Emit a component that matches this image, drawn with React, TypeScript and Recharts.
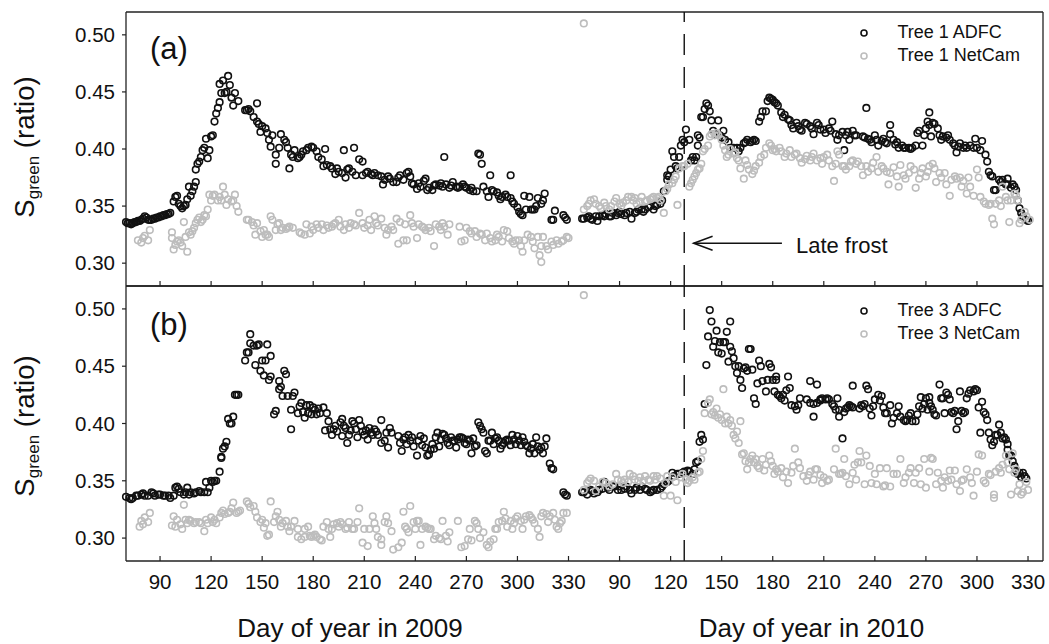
import React from 'react';
import { ScatterChart, Scatter, XAxis, YAxis, ReferenceLine, Legend } from 'recharts';

const FONT = '"Liberation Sans", Arial, Helvetica, sans-serif';
const INK = '#111';
const GREY = '#bdbdbd';
const AXIS = '#222';

// 2010 days are placed 270 units after 2009 days on the shared x axis
const OFFSET_2010 = 270;
const xTicks2009 = [90, 120, 150, 180, 210, 240, 270, 300, 330];
const xTicks2010 = [90, 120, 150, 180, 210, 240, 270, 300, 330];
const yTicks = [0.3, 0.35, 0.4, 0.45, 0.5];
const yDomain = [0.28, 0.52];
const xDomain = [70, 608.8];
const frostDay2010 = 128;
const arrowTipDay2010 = 133.5;
const arrowTailDay2010 = 185.4;
const arrowValue = 0.3175;

// ---------- Panel (a): Tree 1 ----------
const t1Adfc2009 = [
[70,.336],[71,.335],[72,.335],[73,.334],[74,.335],[75,.336],[76,.336],[77,.337],[78,.337],[79,.338],[80,.339],[81,.341],[82,.340],[83,.338],[84,.338],[85,.338],[86,.339],[87,.339],[88,.340],[89,.340],[90,.341],[91,.341],[92,.342],[93,.342],[94,.343],[95,.343],[96,.344],
[98,.354],[99,.358],[100,.359],[101,.352],[102,.350],[103,.348],[104,.350],[105,.351],[106,.356],[107,.367],[108,.359],[109,.363],[110,.367],[111,.371],[111,.382],[112,.387],[113,.389],[114,.393],[115,.399],[116,.401],[117,.409],[118,.392],[119,.399],[120,.411],[121,.412],[122,.424],[123,.431],[124,.436],[125,.441],[125,.457],[126,.449],[127,.460],[128,.449],[129,.450],[130,.464],[131,.456],[132,.445],[133,.438],[134,.449],[136,.442],
[140,.434],[141,.434],[142,.435],[143,.433],[145,.428],[147,.440],[147,.424],[148,.422],[149,.415],[150,.420],[152,.418],[153,.414],[154,.408],[155,.402],[156,.412],[158,.387],[158,.395],[160,.401],[161,.413],[163,.408],[164,.406],[165,.401],[166,.383],[167,.395],[168,.393],[169,.399],[171,.392],[172,.393],[173,.395],[174,.398],[176,.399],[177,.401],[179,.402],[180,.401],[182,.398],[183,.393],[185,.391],[186,.385],[187,.400],[188,.386],[190,.385],[191,.383],[193,.378],[194,.383],[195,.380],[197,.379],[198,.399],[199,.375],[200,.382],[201,.383],[203,.380],[204,.401],[205,.377],[207,.391],[209,.389],[209,.377],[211,.379],[212,.380],[214,.378],[215,.377],[216,.379],[218,.377],[220,.376],[221,.369],[222,.373],[224,.376],[225,.374],[227,.371],[229,.371],[230,.375],[231,.377],[233,.373],[235,.379],[236,.380],[237,.376],[238,.370],[239,.369],[241,.365],[242,.370],[243,.367],[245,.372],[246,.374],[247,.364],[248,.366],[250,.364],[251,.368],[252,.369],[254,.368],[255,.370],[256,.367],[257,.393],[258,.369],[260,.366],[261,.368],[262,.371],[264,.367],[265,.366],[266,.367],[268,.369],[269,.367],[270,.366],[272,.364],[273,.366],[274,.363],[276,.363],[277,.396],[278,.395],[279,.387],[280,.367],[282,.363],[283,.358],[284,.377],[285,.364],[286,.363],[288,.362],[289,.359],[290,.356],[291,.358],[293,.360],[294,.358],[296,.357],[296,.377],[297,.354],[298,.352],[300,.349],[301,.345],[302,.343],[303,.342],[304,.359],[305,.347],[307,.358],[308,.347],[309,.347],[310,.347],[311,.350],[312,.357],[314,.352],[315,.355],[316,.361],[320,.338],[321,.338],[322,.346],[327,.342],[328,.340],[329,.338]
];
const t1NetCam2009 = [
[77,.320],[79,.318],[80,.322],[81,.324],[83,.320],[84,.329],
[97,.327],[97,.322],[98,.312],[99,.316],[100,.319],[101,.320],[102,.318],[103,.315],[104,.336],[105,.323],[106,.310],[107,.327],[108,.325],[109,.328],[110,.331],[111,.335],[112,.338],[113,.340],[114,.336],[115,.338],[116,.342],[117,.341],[118,.347],[119,.360],[120,.355],[121,.359],[122,.360],[124,.355],[125,.358],[126,.355],[127,.367],[128,.360],[129,.351],[130,.356],[132,.354],[133,.355],[134,.360],[135,.350],[136,.345],
[141,.338],[142,.338],[144,.336],[145,.333],[146,.325],[147,.335],[149,.328],[150,.323],[151,.329],[152,.325],[153,.325],[154,.323],[155,.341],[156,.338],[158,.329],[159,.334],[160,.335],[161,.329],[162,.331],[164,.330],[165,.331],[166,.332],[168,.331],[172,.327],[173,.326],[175,.325],[176,.334],[178,.326],[179,.332],[180,.329],[182,.334],[183,.331],[185,.334],[186,.329],[188,.333],[189,.331],[191,.332],[192,.334],[193,.335],[195,.338],[196,.332],[198,.329],[199,.334],[201,.331],[202,.335],[204,.334],[205,.333],[207,.344],[209,.335],[210,.331],[212,.333],[213,.338],[214,.329],[216,.341],[217,.335],[218,.333],[220,.339],[222,.331],[223,.325],[224,.329],[226,.332],[227,.329],[229,.339],[230,.317],[231,.336],[233,.320],[234,.334],[235,.320],[237,.342],[238,.335],[239,.332],[241,.322],[242,.334],[244,.332],[245,.331],[246,.329],[248,.331],[249,.328],[251,.315],[252,.334],[254,.332],[255,.329],[256,.335],[257,.332],[259,.325],[260,.334],[266,.332],[267,.319],[269,.320],[270,.331],[272,.328],[273,.326],[275,.328],[276,.323],[278,.326],[279,.325],[281,.320],[282,.326],[284,.322],[285,.319],[287,.320],[288,.325],[289,.323],[291,.319],[292,.329],[294,.328],[295,.322],[297,.319],[298,.317],[299,.320],[301,.320],[302,.315],[303,.310],[304,.320],[306,.325],[308,.323],[309,.319],[310,.313],[312,.323],[313,.307],[314,.301],[314,.315],[315,.323],[317,.315],[318,.312],[320,.319],[321,.316],[323,.320],[324,.317],[326,.319],[327,.320],[329,.323],[330,.322]
];
const t1Adfc2010 = [
[68,.339],[69,.339],[71,.340],[72,.341],[73,.339],[74,.338],[76,.341],[77,.337],[78,.341],[80,.342],[81,.341],[82,.343],[84,.341],[85,.341],[86,.344],[88,.342],[89,.344],[90,.345],[91,.343],[93,.342],[94,.344],[96,.345],[97,.339],[99,.344],[100,.345],[101,.347],[103,.347],[104,.345],[105,.347],[107,.349],[108,.350],[110,.347],[111,.350],[112,.351],[114,.352],[115,.355],[116,.363],[118,.373],[118,.377],[119,.376],[120,.382],[121,.398],[122,.393],[123,.385],[124,.383],[125,.393],[126,.403],[127,.408],[128,.406],[129,.417],[131,.408],[132,.390],[133,.393],[134,.390],[135,.393],[136,.403],[136,.412],[137,.410],[138,.428],[139,.428],[140,.435],[141,.440],[142,.438],[143,.433],[144,.425],[145,.416],[146,.413],[148,.425],[149,.412],[150,.410],[151,.416],[152,.408],[154,.406],[155,.401],[157,.401],[159,.401],[160,.398],[161,.401],[163,.405],[164,.406],[165,.408],[167,.406],[168,.407],[169,.408],[170,.407],[172,.424],[173,.428],[174,.433],[176,.433],[177,.442],[178,.445],[179,.444],[180,.443],[181,.441],[182,.440],[183,.438],[185,.432],[186,.428],[187,.430],[189,.426],[190,.425],[191,.421],[192,.418],[194,.423],[195,.420],[196,.417],[197,.416],[199,.423],[200,.422],[202,.420],[203,.418],[204,.413],[206,.423],[207,.421],[208,.417],[210,.417],[211,.414],[213,.418],[214,.416],[215,.424],[217,.413],[218,.408],[219,.412],[221,.415],[222,.399],[223,.412],[224,.415],[225,.408],[227,.416],[228,.412],[229,.412],[233,.411],[234,.410],[235,.436],[236,.409],[237,.408],[238,.406],[240,.412],[241,.408],[242,.403],[244,.407],[245,.409],[246,.406],[247,.405],[249,.421],[249,.413],[251,.408],[252,.404],[253,.406],[254,.401],[256,.403],[257,.401],[258,.401],[260,.401],[261,.400],[262,.401],[264,.403],[265,.414],[266,.416],[268,.403],[269,.412],[270,.418],[271,.424],[272,.421],[272,.432],[273,.411],[274,.423],[275,.422],[277,.418],[278,.412],[279,.408],[280,.411],[282,.410],[283,.412],[284,.408],[286,.405],[287,.403],[288,.397],[289,.402],[290,.405],[292,.401],[293,.403],[294,.401],[296,.403],[298,.401],[299,.409],[300,.401],[302,.399],[303,.407],[305,.395],[306,.389],[307,.380],[308,.377],[309,.376],[310,.364],[311,.364],[313,.373],[314,.371],[315,.373],[317,.369],[318,.374],[318,.369],[320,.366],[321,.369],[322,.367],[323,.364],[324,.355],[325,.348],[326,.344],[327,.341],[329,.338],[330,.337]
];
const t1NetCam2010 = [
[69,.510],
[69,.347],[71,.350],[72,.352],[73,.355],[75,.356],[76,.352],[78,.350],[79,.348],[81,.353],[82,.350],[84,.347],[85,.350],[87,.354],[88,.357],[90,.352],[91,.350],[92,.353],[94,.355],[95,.358],[97,.358],[98,.355],[99,.357],[100,.352],[102,.354],[103,.358],[105,.354],[106,.355],[108,.356],[109,.357],[110,.358],[112,.357],[113,.358],[114,.355],[116,.344],[117,.363],[118,.365],[119,.369],[121,.370],[122,.373],[123,.376],[124,.351],[125,.383],[127,.385],[128,.385],[130,.387],[131,.367],[132,.370],[133,.373],[134,.376],[135,.379],[136,.382],[137,.383],[138,.387],[139,.398],[140,.400],[142,.403],[143,.411],[144,.413],[146,.412],[147,.414],[148,.412],[150,.408],[151,.403],[152,.399],[153,.393],[154,.395],[155,.400],[157,.396],[158,.397],[159,.392],[160,.390],[161,.383],[163,.374],[164,.390],[165,.386],[166,.382],[168,.378],[169,.381],[170,.385],[172,.388],[173,.393],[175,.395],[176,.401],[178,.405],[179,.403],[180,.399],[181,.400],[182,.398],[184,.401],[185,.398],[187,.393],[188,.396],[190,.399],[191,.393],[193,.395],[194,.396],[196,.392],[197,.388],[199,.391],[200,.394],[202,.390],[203,.393],[204,.396],[206,.390],[208,.392],[209,.387],[210,.393],[212,.395],[213,.390],[215,.385],[216,.372],[217,.387],[218,.398],[219,.395],[221,.385],[222,.385],[223,.382],[225,.385],[226,.389],[227,.390],[229,.387],[230,.389],[232,.385],[233,.377],[235,.385],[236,.380],[238,.383],[239,.388],[241,.393],[242,.380],[244,.385],[245,.383],[247,.380],[248,.369],[249,.379],[251,.384],[253,.376],[254,.367],[255,.386],[257,.377],[258,.374],[260,.379],[261,.385],[263,.382],[264,.366],[266,.374],[267,.379],[268,.383],[270,.376],[271,.380],[272,.385],[274,.387],[275,.383],[276,.371],[278,.379],[279,.375],[281,.379],[282,.369],[284,.359],[285,.373],[287,.376],[288,.374],[290,.375],[291,.367],[292,.372],[294,.361],[295,.375],[296,.367],[298,.359],[300,.382],[301,.375],[302,.358],[304,.354],[305,.352],[307,.351],[308,.352],[309,.339],[310,.334],[311,.352],[313,.355],[314,.350],[315,.367],[317,.358],[318,.355],[319,.336],[320,.355],[322,.361],[323,.359],[324,.355],[325,.335],[326,.338],[328,.345],[329,.341],[331,.338]
];

// ---------- Panel (b): Tree 3 ----------
const t3Adfc2009 = [
[70,.336],[72,.335],[73,.334],[74,.335],[76,.337],[77,.337],[79,.338],[80,.339],[81,.337],[83,.337],[85,.340],[86,.339],[87,.337],[89,.338],[90,.338],[92,.337],[93,.337],[95,.337],[96,.335],[98,.337],[99,.344],[100,.345],[101,.343],[102,.340],[104,.338],[105,.340],[106,.344],[107,.338],[108,.340],[110,.339],[111,.340],[113,.341],[114,.340],[116,.340],[117,.349],[118,.340],[119,.344],[120,.350],[121,.349],[122,.350],[123,.350],[125,.358],[126,.370],[126,.371],[127,.378],[128,.380],[129,.384],[130,.404],[131,.400],[132,.400],[133,.406],[134,.425],[135,.425],[136,.425],
[140,.455],[141,.462],[142,.462],[143,.470],[143,.478],[145,.468],[146,.451],[147,.468],[148,.469],[149,.446],[150,.455],[151,.442],[152,.455],[153,.469],[154,.438],[155,.459],[155,.441],[157,.408],[158,.411],[160,.437],[160,.430],[161,.432],[162,.424],[163,.446],[164,.443],[165,.424],[167,.395],[167,.412],[168,.424],[169,.427],[171,.409],[172,.415],[173,.418],[174,.410],[175,.405],[176,.416],[177,.409],[178,.416],[179,.408],[180,.414],[181,.412],[182,.408],[183,.413],[184,.409],[186,.414],[187,.394],[188,.409],[189,.402],[190,.395],[191,.390],[192,.395],[193,.398],[194,.393],[196,.401],[197,.389],[197,.404],[198,.398],[199,.396],[200,.383],[201,.390],[202,.394],[203,.402],[204,.400],[205,.395],[206,.388],[207,.403],[208,.398],[209,.393],[210,.390],[211,.394],[212,.386],[213,.396],[214,.392],[215,.390],[216,.395],[217,.393],[218,.390],[220,.403],[220,.383],[222,.385],[223,.392],[224,.379],[225,.396],[226,.392],[230,.389],[231,.383],[232,.376],[233,.386],[234,.388],[235,.382],[236,.390],[237,.385],[238,.388],[239,.380],[241,.372],[242,.385],[243,.389],[244,.381],[245,.387],[246,.379],[247,.372],[248,.373],[249,.377],[250,.382],[251,.378],[252,.388],[253,.392],[254,.380],[255,.386],[256,.391],[257,.390],[258,.387],[259,.383],[260,.381],[261,.388],[262,.385],[263,.385],[264,.379],[265,.386],[266,.388],[267,.388],[268,.387],[269,.383],[270,.382],[271,.386],[272,.385],[273,.374],[274,.387],[275,.380],[276,.381],[277,.401],[278,.398],[279,.395],[280,.392],[281,.376],[282,.374],[283,.385],[284,.385],[285,.392],[286,.382],[287,.387],[288,.388],[289,.385],[290,.378],[291,.381],[292,.383],[293,.385],[294,.386],[295,.385],[296,.381],[297,.390],[298,.386],[299,.382],[300,.389],[301,.385],[302,.381],[303,.388],[304,.384],[305,.381],[306,.380],[307,.374],[308,.378],[309,.382],[310,.374],[311,.388],[312,.380],[313,.377],[314,.379],[315,.374],[316,.380],[317,.387],[319,.365],[320,.361],[321,.360],[327,.340],[328,.338],[329,.337]
];
const t3NetCam2009 = [
[78,.310],[79,.315],[80,.312],[81,.318],[83,.314],[84,.322],[97,.311],[98,.319],[99,.310],[100,.316],[102,.312],[103,.308],[104,.329],[105,.316],[106,.313],[107,.316],[108,.315],[110,.313],[111,.314],[113,.314],[114,.313],[116,.306],[117,.316],[118,.313],[120,.318],[121,.314],[122,.316],[123,.313],[125,.318],[126,.322],[127,.324],[128,.321],[130,.322],[131,.323],[132,.326],[133,.331],[135,.322],[136,.323],[137,.324],[141,.332],[142,.330],[143,.327],[145,.328],[146,.323],[147,.318],[149,.314],[150,.316],[151,.309],[152,.313],[153,.302],[154,.303],[155,.332],[157,.314],[158,.319],[159,.323],[160,.316],[161,.310],[162,.313],[164,.315],[165,.310],[166,.306],[167,.310],[169,.315],[171,.308],[171,.301],[173,.299],[175,.301],[175,.308],[177,.310],[178,.302],[179,.301],[180,.302],[181,.303],[182,.301],[184,.299],[185,.298],[186,.310],[188,.314],[189,.308],[190,.301],[191,.308],[192,.312],[194,.313],[195,.310],[196,.314],[197,.312],[199,.308],[200,.309],[201,.314],[203,.308],[204,.308],[206,.314],[207,.326],[209,.296],[210,.308],[212,.293],[213,.308],[215,.319],[216,.313],[217,.308],[218,.301],[220,.299],[220,.294],[222,.314],[223,.319],[224,.313],[226,.306],[227,.290],[230,.292],[232,.296],[233,.323],[234,.310],[235,.308],[236,.305],[237,.328],[239,.314],[240,.308],[241,.315],[242,.315],[243,.294],[244,.308],[246,.310],[247,.309],[248,.308],[249,.308],[251,.299],[252,.302],[254,.300],[255,.299],[256,.315],[258,.302],[259,.297],[260,.305],[265,.315],[267,.292],[269,.293],[271,.299],[272,.308],[273,.298],[275,.315],[276,.313],[277,.308],[278,.300],[280,.305],[282,.294],[283,.292],[284,.297],[286,.299],[287,.308],[288,.308],[289,.314],[291,.315],[292,.323],[293,.317],[294,.310],[296,.315],[297,.308],[298,.313],[299,.317],[300,.319],[302,.315],[303,.308],[304,.316],[305,.319],[307,.320],[308,.318],[309,.316],[310,.313],[312,.308],[313,.301],[314,.319],[315,.322],[317,.321],[318,.314],[319,.319],[321,.322],[322,.316],[323,.310],[324,.308],[325,.313],[326,.315],[327,.322],[329,.322]
];
const t3Adfc2010 = [
[68,.340],[69,.340],[71,.338],[73,.342],[74,.341],[75,.339],[77,.340],[78,.342],[80,.343],[81,.349],[83,.344],[84,.342],[86,.345],[87,.345],[89,.342],[90,.345],[91,.342],[93,.343],[94,.345],[96,.342],[97,.339],[99,.342],[100,.344],[102,.342],[103,.345],[105,.343],[106,.342],[108,.340],[109,.341],[110,.342],[112,.342],[114,.343],[115,.345],[116,.347],[118,.349],[119,.350],[121,.357],[122,.354],[124,.356],[125,.356],[127,.357],[128,.358],[130,.359],[131,.358],[133,.356],[134,.360],[135,.366],[136,.367],[137,.384],[138,.390],[139,.386],[140,.417],[141,.451],[142,.476],[143,.499],[144,.489],[145,.467],[146,.472],[147,.481],[148,.462],[149,.471],[150,.461],[151,.471],[152,.471],[153,.480],[154,.454],[155,.489],[155,.467],[156,.463],[157,.457],[158,.450],[159,.444],[160,.450],[161,.438],[162,.431],[163,.448],[164,.449],[165,.446],[166,.465],[167,.465],[168,.447],[169,.422],[170,.417],[171,.435],[172,.455],[173,.450],[174,.437],[176,.428],[177,.438],[178,.452],[179,.449],[180,.438],[181,.428],[182,.441],[182,.438],[183,.425],[184,.424],[185,.422],[186,.425],[187,.420],[188,.429],[189,.441],[190,.431],[191,.416],[193,.415],[194,.412],[195,.416],[196,.422],[200,.421],[202,.437],[202,.418],[204,.417],[204,.406],[206,.434],[206,.418],[208,.421],[208,.420],[209,.422],[211,.421],[212,.422],[213,.421],[215,.417],[216,.415],[217,.412],[218,.422],[219,.406],[219,.412],[221,.387],[222,.410],[223,.413],[224,.414],[225,.416],[226,.415],[227,.414],[227,.433],[231,.413],[232,.416],[233,.415],[234,.417],[235,.433],[236,.430],[237,.413],[238,.407],[239,.415],[240,.421],[242,.425],[243,.420],[244,.424],[245,.414],[246,.409],[247,.409],[249,.416],[250,.400],[251,.405],[253,.409],[254,.415],[255,.406],[257,.403],[258,.402],[259,.403],[260,.407],[261,.409],[262,.402],[264,.402],[265,.408],[266,.415],[267,.423],[268,.413],[269,.417],[270,.422],[271,.412],[272,.423],[272,.418],[273,.415],[274,.412],[275,.408],[276,.407],[278,.434],[279,.422],[280,.422],[281,.409],[282,.427],[283,.425],[284,.421],[285,.410],[286,.409],[287,.411],[288,.395],[289,.402],[290,.428],[291,.411],[292,.409],[293,.410],[294,.422],[295,.426],[296,.429],[298,.428],[299,.430],[300,.429],[301,.414],[302,.392],[303,.419],[304,.410],[305,.408],[306,.403],[307,.392],[308,.386],[309,.381],[310,.384],[311,.390],[312,.390],[313,.399],[314,.392],[315,.387],[316,.388],[317,.386],[318,.377],[318,.382],[319,.372],[320,.372],[321,.367],[322,.363],[323,.359],[324,.356],[325,.357],[326,.353],[327,.357],[328,.354],[329,.352]
];
const t3NetCam2010 = [
[69,.512],
[69,.342],[71,.348],[72,.350],[73,.352],[75,.350],[76,.341],[78,.345],[80,.349],[82,.348],[84,.345],[86,.347],[88,.356],[89,.351],[91,.350],[92,.348],[93,.351],[95,.349],[96,.356],[98,.354],[99,.351],[101,.350],[102,.353],[104,.350],[105,.354],[107,.351],[108,.350],[110,.354],[111,.351],[112,.354],[114,.352],[116,.337],[117,.348],[118,.354],[120,.337],[121,.353],[123,.349],[124,.333],[126,.353],[127,.356],[129,.351],[130,.348],[131,.350],[133,.353],[134,.351],[136,.357],[137,.358],[138,.369],[139,.376],[140,.409],[142,.418],[143,.421],[144,.408],[145,.410],[146,.407],[147,.413],[148,.405],[149,.408],[150,.403],[151,.430],[152,.400],[153,.406],[154,.400],[155,.403],[156,.398],[157,.390],[158,.387],[159,.393],[160,.383],[161,.402],[162,.373],[163,.374],[164,.367],[165,.360],[166,.366],[167,.369],[168,.372],[169,.366],[170,.369],[171,.363],[172,.361],[174,.369],[175,.359],[176,.364],[178,.372],[179,.367],[180,.363],[181,.356],[182,.360],[183,.358],[185,.361],[186,.353],[188,.358],[189,.348],[191,.357],[192,.363],[193,.378],[195,.366],[196,.361],[198,.354],[200,.350],[201,.355],[202,.358],[204,.351],[205,.360],[206,.360],[208,.355],[209,.348],[210,.353],[212,.350],[213,.351],[216,.360],[217,.378],[219,.356],[220,.356],[221,.357],[222,.369],[223,.354],[225,.347],[227,.357],[228,.364],[229,.351],[230,.366],[231,.376],[232,.366],[234,.347],[235,.372],[237,.363],[238,.348],[240,.356],[241,.347],[243,.361],[245,.345],[246,.346],[247,.361],[249,.345],[251,.356],[253,.356],[255,.369],[257,.348],[258,.353],[260,.357],[261,.361],[263,.348],[264,.357],[266,.361],[267,.347],[269,.369],[270,.344],[272,.358],[273,.370],[274,.369],[276,.347],[277,.357],[279,.350],[280,.344],[281,.353],[283,.350],[284,.359],[285,.351],[287,.359],[288,.347],[290,.341],[291,.350],[292,.351],[294,.360],[296,.353],[297,.348],[298,.337],[300,.358],[301,.373],[303,.372],[304,.350],[305,.348],[307,.356],[308,.355],[310,.338],[310,.335],[311,.358],[313,.361],[314,.357],[315,.364],[317,.372],[318,.366],[319,.360],[320,.338],[321,.374],[322,.357],[323,.360],[324,.341],[325,.347],[326,.338],[327,.340],[329,.349],[330,.342]
];

const toPoints = (pairs: number[][], offset: number) => pairs.map(([d, v]) => ({ x: d + offset, y: v }));

const xTicks = [...xTicks2009, ...xTicks2010.map((d) => d + OFFSET_2010)];
const fmtX = (v: number) => (v > 345 ? v - OFFSET_2010 : v);

const ring = (color: string) => (p: any) => (
  <circle cx={p.cx} cy={p.cy} r={3.3} fill="none" stroke={color} strokeWidth={1.6} />
);

const XTick = (p: any) => {
  const { x, y, payload, showLabel } = p;
  return (
    <g>
      <line x1={x} x2={x} y1={y} y2={y - 5} stroke={AXIS} strokeWidth={1.2} />
      {showLabel ? (
        <text x={x} y={y + 28} textAnchor="middle" fontSize={20.5} fill={INK} fontFamily={FONT}>
          {fmtX(payload.value)}
        </text>
      ) : null}
    </g>
  );
};

const RightTick = (p: any) => {
  const { x, y } = p;
  return <line x1={x} x2={x - 5} y1={y} y2={y} stroke={AXIS} strokeWidth={1.2} />;
};

const ArrowShape = (p: any) => {
  const x1 = Number(p.x1), x2 = Number(p.x2), y = Number(p.y1);
  if (!isFinite(x1) || !isFinite(x2) || !isFinite(y)) return <g />;
  const tip = Math.min(x1, x2);
  const tail = Math.max(x1, x2);
  return (
    <g>
      <line x1={tip} y1={y} x2={tail} y2={y} stroke={INK} strokeWidth={1.5} />
      <polyline points={`${tip + 19},${y - 7} ${tip},${y} ${tip + 19},${y + 7}`} fill="none" stroke={INK} strokeWidth={1.5} />
      <text x={tail + 14} y={y + 10} fontSize={22} fill={INK} fontFamily={FONT}>Late frost</text>
    </g>
  );
};

const makeLegend = (items: [string, string][]) => () => (
  <div style={{ fontFamily: FONT, fontSize: 18, color: INK }}>
    {items.map(([name, color]) => (
      <div key={name} style={{ display: 'flex', alignItems: 'center', height: 23 }}>
        <svg width={16} height={12} style={{ marginRight: 26, flex: 'none' }}>
          <circle cx={8} cy={6} r={3} fill="none" stroke={color} strokeWidth={1.6} />
        </svg>
        <span style={{ whiteSpace: 'nowrap' }}>{name}</span>
      </div>
    ))}
  </div>
);

type PanelProps = {
  height: number;
  marginTop: number;
  xAxisHeight: number;
  showXLabels: boolean;
  adfc: { x: number; y: number }[];
  netcam: { x: number; y: number }[];
  names: [string, string];
  legendTop: number;
  showArrow: boolean;
};

const Panel = (pp: PanelProps) => (
  <ScatterChart width={1049} height={pp.height} margin={{ top: pp.marginTop, right: 0, bottom: 0, left: 0 }}>
    <XAxis
      xAxisId="b"
      type="number"
      dataKey="x"
      domain={xDomain}
      ticks={xTicks}
      interval={0}
      height={pp.xAxisHeight}
      axisLine={{ stroke: AXIS, strokeWidth: 1.3 }}
      tickLine={false}
      tickSize={0}
      tickMargin={0}
      tick={(p: any) => <XTick {...p} showLabel={pp.showXLabels} />}
    />
    <YAxis
      yAxisId="l"
      type="number"
      dataKey="y"
      domain={yDomain}
      ticks={yTicks}
      interval={0}
      width={126}
      tickSize={4}
      tickMargin={7}
      tickFormatter={(v: number) => v.toFixed(2)}
      axisLine={{ stroke: AXIS, strokeWidth: 1.3 }}
      tickLine={{ stroke: AXIS, strokeWidth: 1.2 }}
      tick={{ fontSize: 20.5, fill: INK, fontFamily: FONT }}
    />
    <YAxis
      yAxisId="r"
      orientation="right"
      type="number"
      domain={yDomain}
      ticks={yTicks}
      interval={0}
      width={6}
      tickSize={0}
      tickMargin={0}
      tickLine={false}
      axisLine={{ stroke: AXIS, strokeWidth: 1.3 }}
      tick={(p: any) => <RightTick {...p} />}
    />
    <ReferenceLine xAxisId="b" yAxisId="l" y={yDomain[1]} stroke={AXIS} strokeWidth={1.3} />
    <ReferenceLine
      xAxisId="b"
      yAxisId="l"
      x={frostDay2010 + OFFSET_2010}
      stroke={INK}
      strokeWidth={1.4}
      strokeDasharray="21 12"
    />
    {pp.showArrow ? (
      <ReferenceLine
        xAxisId="b"
        yAxisId="l"
        segment={[
          { x: arrowTipDay2010 + OFFSET_2010, y: arrowValue },
          { x: arrowTailDay2010 + OFFSET_2010, y: arrowValue },
        ]}
        stroke={INK}
        shape={ArrowShape}
      />
    ) : null}
    <Scatter
      xAxisId="b"
      yAxisId="l"
      name={pp.names[0]}
      data={pp.adfc}
      isAnimationActive={false}
      shape={ring(INK)}
    />
    <Scatter
      xAxisId="b"
      yAxisId="l"
      name={pp.names[1]}
      data={pp.netcam}
      isAnimationActive={false}
      shape={ring(GREY)}
    />
    <Legend
      layout="vertical"
      align="center"
      verticalAlign="middle"
      wrapperStyle={{ top: pp.legendTop, left: 855.5, width: 190, height: 46 }}
      content={makeLegend([
        [pp.names[0], INK],
        [pp.names[1], GREY],
      ])}
    />
  </ScatterChart>
);

export default function App() {
  const a = {
    adfc: [...toPoints(t1Adfc2009, 0), ...toPoints(t1Adfc2010, OFFSET_2010)],
    netcam: [...toPoints(t1NetCam2009, 0), ...toPoints(t1NetCam2010, OFFSET_2010)],
  };
  const b = {
    adfc: [...toPoints(t3Adfc2009, 0), ...toPoints(t3Adfc2010, OFFSET_2010)],
    netcam: [...toPoints(t3NetCam2009, 0), ...toPoints(t3NetCam2010, OFFSET_2010)],
  };
  return (
    <div style={{ position: 'absolute', left: 0, top: 0, width: 1049, height: 644, background: '#fff', fontFamily: FONT, overflow: 'hidden' }}>
      <div style={{ position: 'absolute', left: 0, top: 0 }}>
        <Panel
          height={290}
          marginTop={12}
          xAxisHeight={4}
          showXLabels={false}
          adfc={a.adfc}
          netcam={a.netcam}
          names={['Tree 1 ADFC', 'Tree 1 NetCam']}
          legendTop={21}
          showArrow={true}
        />
      </div>
      <div style={{ position: 'absolute', left: 0, top: 0 }}>
        <Panel
          height={644}
          marginTop={286}
          xAxisHeight={83}
          showXLabels={true}
          adfc={b.adfc}
          netcam={b.netcam}
          names={['Tree 3 ADFC', 'Tree 3 NetCam']}
          legendTop={299}
          showArrow={false}
        />
      </div>
      <svg width={1049} height={644} style={{ position: 'absolute', left: 0, top: 0, pointerEvents: 'none' }}>
        <g fontFamily={FONT} fill={INK}>
          <text x={150} y={58.5} fontSize={31}>(a)</text>
          <text x={150} y={335} fontSize={31}>(b)</text>
          <text transform="translate(34,147) rotate(-90)" textAnchor="middle" fontSize={27.5}>
            S<tspan fontSize={17} dy={5}>green</tspan><tspan dy={-5}> (ratio)</tspan>
          </text>
          <text transform="translate(34,426) rotate(-90)" textAnchor="middle" fontSize={27.5}>
            S<tspan fontSize={17} dy={5}>green</tspan><tspan dy={-5}> (ratio)</tspan>
          </text>
          <text x={350} y={637} textAnchor="middle" fontSize={26}>Day of year in 2009</text>
          <text x={811.5} y={637} textAnchor="middle" fontSize={26}>Day of year in 2010</text>
        </g>
      </svg>
    </div>
  );
}
